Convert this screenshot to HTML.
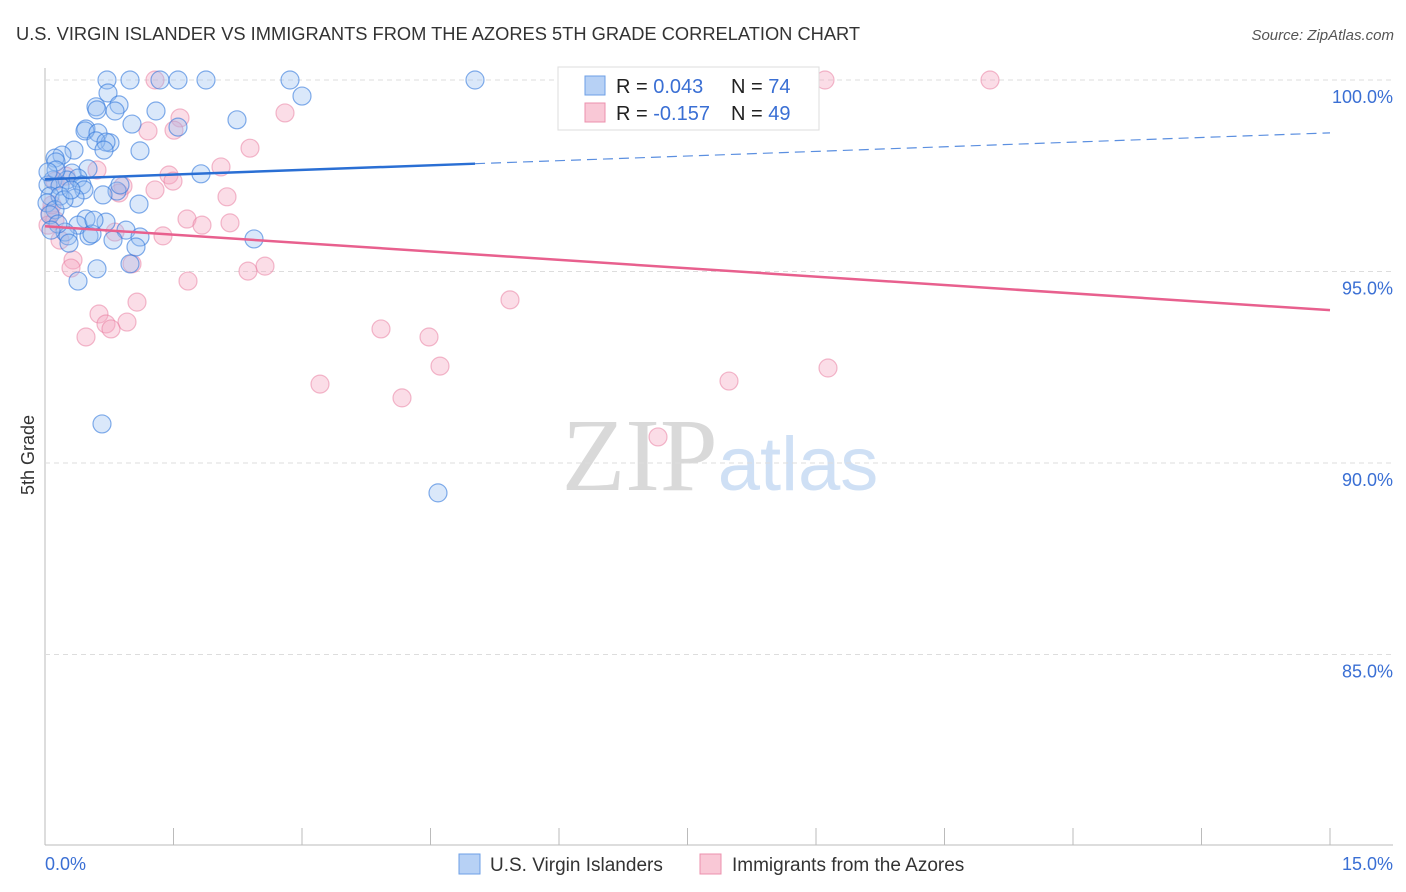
<!DOCTYPE html>
<html><head><meta charset="utf-8"><style>
body{margin:0;background:#fff;font-family:"Liberation Sans",sans-serif;}
svg{display:block}
</style></head><body>
<svg id="c" width="1406" height="892" xmlns="http://www.w3.org/2000/svg">
<text x="16" y="40" font-size="18.3" fill="#333">U.S. VIRGIN ISLANDER VS IMMIGRANTS FROM THE AZORES 5TH GRADE CORRELATION CHART</text>
<text x="1394" y="40" font-size="15" fill="#555" text-anchor="end" font-style="italic">Source: ZipAtlas.com</text>
<text x="720" y="490" font-size="104" text-anchor="middle" font-family="Liberation Serif" fill="#ddd"><tspan fill="#d9d9d9">ZIP</tspan><tspan fill="#cfe0f5" font-family="Liberation Sans" font-size="76">atlas</tspan></text>
<text transform="translate(34,455) rotate(-90)" font-size="18" fill="#333" text-anchor="middle">5th Grade</text>
<g id="grid"></g><g id="pts"></g><g id="trend"></g>
<g>
<rect x="558" y="67" width="261" height="63" fill="#fff" stroke="#ddd"/>
<rect x="585" y="76" width="20" height="19" fill="#b7d1f5" stroke="#6d9fe6"/>
<rect x="585" y="103" width="20" height="19" fill="#f9c8d6" stroke="#ec90ad"/>
<text x="616" y="93" font-size="20" fill="#222">R = <tspan fill="#3a6fd4">0.043</tspan><tspan x="731">N = </tspan><tspan fill="#3a6fd4">74</tspan></text>
<text x="616" y="120" font-size="20" fill="#222">R = <tspan fill="#3a6fd4">-0.157</tspan><tspan x="731">N = </tspan><tspan fill="#3a6fd4">49</tspan></text>
</g>
<g>
<rect x="459" y="854" width="21" height="20" fill="#b7d1f5" stroke="#6d9fe6"/>
<text x="490" y="871" font-size="19" fill="#333">U.S. Virgin Islanders</text>
<rect x="700" y="854" width="21" height="20" fill="#f9c8d6" stroke="#ec90ad"/>
<text x="732" y="871" font-size="19" fill="#333">Immigrants from the Azores</text>
</g>
<text x="45" y="870" font-size="18" fill="#3a6fd4">0.0%</text>
<text x="1393" y="870" font-size="18" fill="#3a6fd4" text-anchor="end">15.0%</text>
</svg>
<script>
const blueX=[107,130,160,178,206,290,475,108,302,96,119,97,156,115,237,132,86,85,98,178,110,96,106,104,74,62,55,140,56,88,72,201,53,67,78,48,60,82,84,117,103,50,60,75,139,47,55,86,106,78,65,68,89,126,140,113,69,254,136,130,97,78,102,438,56,64,50,92,58,71,48,51,94,120].map(p=>(p-45)/1285*15);
const blueY=[80,80,80,80,80,80,80,93,96,107,105,110,111,111,120,124,129,131,133,127,143,141,142,150,150,155,158,151,162,169,173,174,180,180,178,185,186,185,190,191,195,196,196,198,204,203,210,219,222,225,232,236,236,230,237,240,243,239,247,264,269,281,424,493,170,200,215,234,224,190,172,230,220,185].map(p=>+(100-(p-80)/38.3).toFixed(2));
const pinkX=[155,825,990,180,285,148,174,250,221,97,169,173,123,155,119,227,55,66,50,55,187,202,230,163,115,73,71,132,265,248,188,510,137,99,127,106,111,86,381,429,440,320,402,729,828,658,48,52,60].map(p=>(p-45)/1285*15);
const pinkY=[80,80,80,118,113,131,130,148,167,170,175,181,186,190,193,197,181,176,213,220,219,225,223,236,232,260,268,264,266,271,281,300,302,314,322,324,329,337,329,337,366,384,398,381,368,437,225,205,240].map(p=>+(100-(p-80)/38.3).toFixed(2));
const yTicks=[100,95,90,85];
const yTickLabels=["100.0%","95.0%","90.0%","85.0%"];
const blueTrend=[[0,97.41],[15,98.62]];
const pinkTrend=[[0,96.18],[15,93.99]];
const NS="http://www.w3.org/2000/svg";
const X=v=>45+v/15*1285, Y=v=>80+(100-v)*38.3;
function mk(t,a,p){const e=document.createElementNS(NS,t);for(const k in a)e.setAttribute(k,a[k]);p.appendChild(e);return e;}
const grid=document.getElementById('grid');
mk('line',{x1:45,y1:68,x2:45,y2:845,stroke:'#bbb'},grid);
mk('line',{x1:45,y1:845,x2:1393,y2:845,stroke:'#bbb'},grid);
for(let i=0;i<=10;i++){const l=mk('line',{x1:45+i*128.5,y1:828,x2:45+i*128.5,y2:845,stroke:'#bbb'},grid);}
yTicks.forEach((v,i)=>{const l=mk('line',{x1:45,y1:Y(v),x2:1393,y2:Y(v),stroke:'#ddd','stroke-dasharray':'5,4'},grid);

const t=mk('text',{x:1393,y:Y(v)+23,'font-size':18,fill:'#3a6fd4','text-anchor':'end'},grid);t.textContent=yTickLabels[i];
});
const pts=document.getElementById('pts');
pinkX.forEach((x,i)=>{const c=mk('circle',{cx:X(x),cy:Y(pinkY[i]),r:9,fill:'rgba(246,170,195,0.4)',stroke:'rgba(232,120,155,0.5)','stroke-width':1.2},pts);
});
blueX.forEach((x,i)=>{const c=mk('circle',{cx:X(x),cy:Y(blueY[i]),r:9,fill:'rgba(150,190,240,0.35)',stroke:'rgba(50,120,220,0.6)','stroke-width':1.2},pts);
});
const tr=document.getElementById('trend');
const bx=5.02, by=blueTrend[0][1]+(blueTrend[1][1]-blueTrend[0][1])*bx/15;
let l=mk('line',{x1:X(0),y1:Y(blueTrend[0][1]),x2:X(bx),y2:Y(by),stroke:'#2a6fd4','stroke-width':2.5},tr);

l=mk('line',{x1:X(bx),y1:Y(by),x2:X(15),y2:Y(blueTrend[1][1]),stroke:'#5b8fe0','stroke-width':1.2,'stroke-dasharray':'10,6'},tr);

l=mk('line',{x1:X(0),y1:Y(pinkTrend[0][1]),x2:X(15),y2:Y(pinkTrend[1][1]),stroke:'#e8608e','stroke-width':2.5},tr);

</script>
</body></html>
